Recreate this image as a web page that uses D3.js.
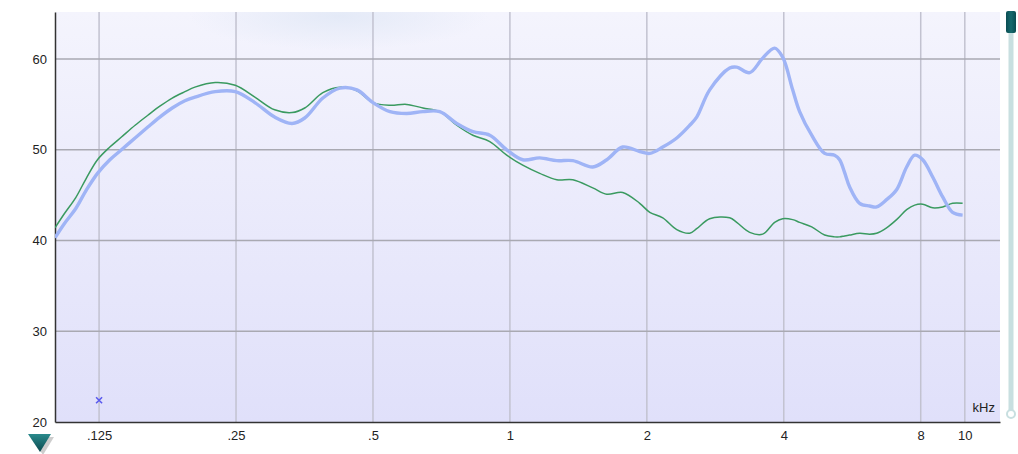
<!DOCTYPE html>
<html><head><meta charset="utf-8">
<script src="https://cdn.jsdelivr.net/npm/d3@7"></script>
<style>html,body{margin:0;padding:0;background:#fff;}svg{display:block;}</style>
</head><body>
<script>
// Frequencies (kHz) sampled along the curves
const freqs = [0.100,0.105,0.111,0.117,0.124,0.132,0.140,0.150,0.160,0.170,0.181,0.193,0.203,0.225,0.249,0.275,0.304,0.332,0.354,0.388,0.423,0.461,0.500,0.545,0.593,0.644,0.701,0.764,0.829,0.903,0.984,1.067,1.163,1.268,1.375,1.521,1.633,1.770,1.929,2.03,2.168,2.327,2.485,2.574,2.749,3.042,3.152,3.366,3.595,3.819,3.978,4.184,4.334,4.607,4.919,5.173,5.307,5.441,5.583,5.872,6.177,6.40,6.73,7.08,7.45,7.76,8.08,8.50,8.94,9.40,9.89];
// Blue series (dB)
const blueValues = [40.3,41.9,43.5,45.5,47.4,48.9,50.0,51.3,52.5,53.6,54.6,55.4,55.8,56.4,56.4,55.2,53.6,52.9,53.5,55.7,56.8,56.6,55.2,54.2,54.0,54.2,54.2,52.9,52.0,51.6,50.0,48.9,49.1,48.8,48.8,48.1,48.9,50.3,49.8,49.6,50.3,51.3,52.7,53.6,56.6,59.0,59.1,58.5,60.1,61.2,60.2,56.6,54.2,51.6,49.6,49.4,48.9,47.5,45.9,44.1,43.8,43.7,44.5,45.6,48.1,49.4,48.9,47.0,44.8,43.1,42.8];
// Green series (dB)
const greenValues = [41.4,43.0,44.7,46.8,48.9,50.3,51.4,52.7,53.8,54.8,55.7,56.4,56.9,57.4,57.1,55.8,54.4,54.1,54.6,56.3,56.9,56.5,55.2,54.9,55.0,54.6,54.2,52.7,51.6,50.9,49.4,48.3,47.4,46.7,46.7,45.8,45.1,45.3,44.1,43.1,42.5,41.2,40.8,41.3,42.4,42.5,42.0,40.9,40.7,42.0,42.4,42.3,42.0,41.5,40.6,40.4,40.4,40.5,40.6,40.8,40.7,40.8,41.4,42.3,43.4,43.9,44.0,43.6,43.7,44.1,44.1];
// Single marker
const markerPoint = [{f:0.125, v:22.4}];
// Ticks
const xTicks = [0.125,0.25,0.5,1,2,4,8,10];
const xTickLabels = [".125",".25",".5","1","2","4","8","10"];
const yTicks = [20,30,40,50,60];
const yDomain = [20,65.18];
const xDomain = [0.1,11.95];

const W=1018,H=454;
const L=55,R=1000,T=12,B=422;
const svg=d3.select("body").append("svg").attr("width",W).attr("height",H);
const defs=svg.append("defs");
const bg=defs.append("linearGradient").attr("id","bg").attr("x1",0).attr("y1",0).attr("x2",0).attr("y2",1);
bg.append("stop").attr("offset","0%").attr("stop-color","#f4f4fd");
bg.append("stop").attr("offset","100%").attr("stop-color","#e0e0fa");
const glow=defs.append("radialGradient").attr("id","glow");
glow.append("stop").attr("offset","0%").attr("stop-color","#e1e8f6").attr("stop-opacity",0.85);
glow.append("stop").attr("offset","100%").attr("stop-color","#e1e8f6").attr("stop-opacity",0);
const tri=defs.append("linearGradient").attr("id","tri").attr("x1",0).attr("y1",0).attr("x2",0).attr("y2",1);
tri.append("stop").attr("offset","0%").attr("stop-color","#2a8a8c");
tri.append("stop").attr("offset","100%").attr("stop-color","#0b4a4f");
const hg=defs.append("linearGradient").attr("id","hg").attr("x1",0).attr("y1",0).attr("x2",1).attr("y2",0);
hg.append("stop").attr("offset","0%").attr("stop-color","#0a4d52");
hg.append("stop").attr("offset","50%").attr("stop-color","#166a6e");
hg.append("stop").attr("offset","100%").attr("stop-color","#0a4d52");
const blur=defs.append("filter").attr("id","soft").attr("x","-5%").attr("y","-5%").attr("width","110%").attr("height","110%");
blur.append("feGaussianBlur").attr("stdDeviation",0.4);

const x=d3.scaleLog().domain(xDomain).range([L,R]);
const y=d3.scaleLinear().domain(yDomain).range([B,T]);

svg.append("clipPath").attr("id","clip").append("rect").attr("x",L).attr("y",T).attr("width",R-L).attr("height",B-T);
svg.append("rect").attr("x",L).attr("y",T).attr("width",R-L).attr("height",B-T).attr("fill","url(#bg)");
svg.append("ellipse").attr("clip-path","url(#clip)").attr("cx",x(0.42)).attr("cy",T+4).attr("rx",150).attr("ry",34).attr("fill","url(#glow)");

// grid
svg.append("g").selectAll("line").data(xTicks).join("line")
  .attr("x1",d=>x(d)).attr("x2",d=>x(d)).attr("y1",T).attr("y2",B)
  .attr("stroke","#c2c2d0").attr("stroke-width",1.5);
svg.append("g").selectAll("line").data(yTicks.filter(d=>d>20)).join("line")
  .attr("x1",L).attr("x2",R).attr("y1",d=>y(d)).attr("y2",d=>y(d))
  .attr("stroke","#a9a9b2").attr("stroke-width",1.5);

// axes
const yAxis=d3.axisLeft(y).tickValues(yTicks).tickSize(0).tickPadding(8).tickFormat(d3.format("d"));
const gy=svg.append("g").attr("transform",`translate(${L},0)`).call(yAxis);
gy.select(".domain").attr("stroke","#333").attr("stroke-width",1.5);
gy.selectAll("text").attr("font-family","Liberation Sans, Arial, sans-serif").attr("font-size",13).attr("fill","#222");
const xAxis=d3.axisBottom(x).tickValues(xTicks).tickSize(0).tickPadding(9).tickFormat((d,i)=>xTickLabels[i]);
const gx=svg.append("g").attr("transform",`translate(0,${B})`).call(xAxis);
gx.select(".domain").attr("stroke","#333").attr("stroke-width",1.5);
gx.selectAll("text").attr("font-family","Liberation Sans, Arial, sans-serif").attr("font-size",13).attr("fill","#222");

// curves
const data=freqs.map((f,i)=>({f,b:blueValues[i],g:greenValues[i]}));
const cg=svg.append("g").attr("clip-path","url(#clip)");
cg.append("path").datum(data)
  .attr("d",d3.line().x(d=>x(d.f)).y(d=>y(d.g)).curve(d3.curveCatmullRom.alpha(0.5)))
  .attr("fill","none").attr("stroke","#3a9a60").attr("stroke-width",1.5);
cg.append("path").datum(data)
  .attr("d",d3.line().x(d=>x(d.f)).y(d=>y(d.b)).curve(d3.curveCatmullRom.alpha(0.5)))
  .attr("fill","none").attr("stroke","#9fb4f6").attr("stroke-width",3.4).attr("filter","url(#soft)");

// marker x
const mg=svg.append("g");
markerPoint.forEach(p=>{
  const cx=x(p.f), cy=y(p.v), s=3;
  mg.append("path").attr("d",`M${cx-s},${cy-s}L${cx+s},${cy+s}M${cx-s},${cy+s}L${cx+s},${cy-s}`)
    .attr("stroke","#5a5aee").attr("stroke-width",1.6);
});

// kHz label
svg.append("text").attr("x",995).attr("y",412).attr("text-anchor","end")
  .attr("font-family","Liberation Sans, Arial, sans-serif").attr("font-size",13).attr("fill","#222").text("kHz");

// slider
svg.append("rect").attr("x",1008.5).attr("y",12).attr("width",5).attr("height",398).attr("fill","#c8dfe0");
svg.append("circle").attr("cx",1011).attr("cy",414).attr("r",4).attr("fill","#fff").attr("stroke","#c8dfe0").attr("stroke-width",2);
svg.append("rect").attr("x",1006).attr("y",11).attr("width",10).attr("height",22).attr("rx",2).attr("fill","url(#hg)");

// triangle
svg.append("path").attr("d","M31,437L54,437L43,455Z").attr("fill","#b8b8b8").attr("opacity",0.7);
svg.append("path").attr("d","M28,434L51,434L40,452Z").attr("fill","url(#tri)");
</script>
</body></html>
